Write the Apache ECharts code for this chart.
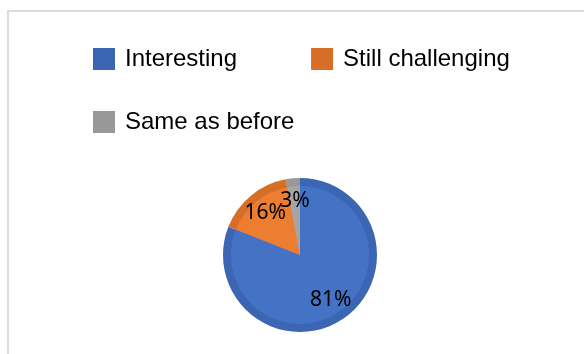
<!DOCTYPE html>
<html>
<head>
<meta charset="utf-8">
<script src="https://cdn.jsdelivr.net/npm/echarts@6/dist/echarts.min.js"></script>
<style>
  html, body { margin: 0; padding: 0; background: #fff; }
  #chart { width: 584px; height: 354px; }
</style>
</head>
<body>
<div id="chart"></div>
<script>
// Survey answers, in percent
const categories = ['Interesting', 'Still challenging', 'Same as before'];
const shares = [81, 16, 3];

// Slice fills and their darker rims
const fillColors = ['#4472c4', '#ed7d31', '#a5a5a5'];
const rimColors = ['#3c66b4', '#d66e28', '#989898'];

const rimData = categories.map((name, i) => ({
  name, value: shares[i], itemStyle: { color: rimColors[i] }
}));
const fillData = categories.map((name, i) => ({
  name, value: shares[i], itemStyle: { color: fillColors[i] }
}));
const labelData = categories.map((name, i) => ({ name, value: shares[i] }));

const chart = echarts.init(document.getElementById('chart'), null, { renderer: 'canvas' });

const legendText = {
  fontFamily: 'Liberation Sans, Arial, sans-serif',
  fontSize: 24,
  color: '#000',
  padding: [0, 0, 10, 5]
};

chart.setOption({
  animation: false,
  backgroundColor: '#fff',
  graphic: [{
    type: 'rect',
    shape: { x: 8, y: 11, width: 700, height: 500 },
    style: { fill: 'none', stroke: '#dcdcdc', lineWidth: 2 },
    silent: true
  }],
  legend: [{
    data: categories.slice(0, 2),
    left: 93, top: 47,
    itemWidth: 22, itemHeight: 22, itemGap: 74,
    icon: 'rect',
    padding: 0,
    textStyle: legendText,
    selectedMode: false
  }, {
    data: categories.slice(2),
    left: 93, top: 110,
    itemWidth: 22, itemHeight: 22,
    icon: 'rect',
    padding: 0,
    textStyle: legendText,
    selectedMode: false
  }],
  series: [{
    // darker rim
    type: 'pie',
    center: [300, 255],
    radius: [0, 77],
    startAngle: 90,
    clockwise: true,
    label: { show: false },
    labelLine: { show: false },
    silent: true,
    data: rimData
  }, {
    // lighter face
    type: 'pie',
    center: [300, 255],
    radius: [0, 69],
    startAngle: 90,
    clockwise: true,
    label: { show: false },
    labelLine: { show: false },
    silent: true,
    data: fillData
  }, {
    // percentage labels
    type: 'pie',
    center: [300, 255],
    radius: [25, 78],
    startAngle: 90,
    clockwise: true,
    z: 5,
    silent: true,
    avoidLabelOverlap: false,
    labelLayout: { hideOverlap: false },
    itemStyle: { color: 'rgba(0,0,0,0)' },
    label: {
      show: true,
      position: 'inside',
      formatter: '{c}%',
      fontFamily: 'Noto Sans, sans-serif',
      fontSize: 21,
      color: '#000'
    },
    labelLine: { show: false },
    data: labelData
  }]
});
</script>
</body>
</html>
